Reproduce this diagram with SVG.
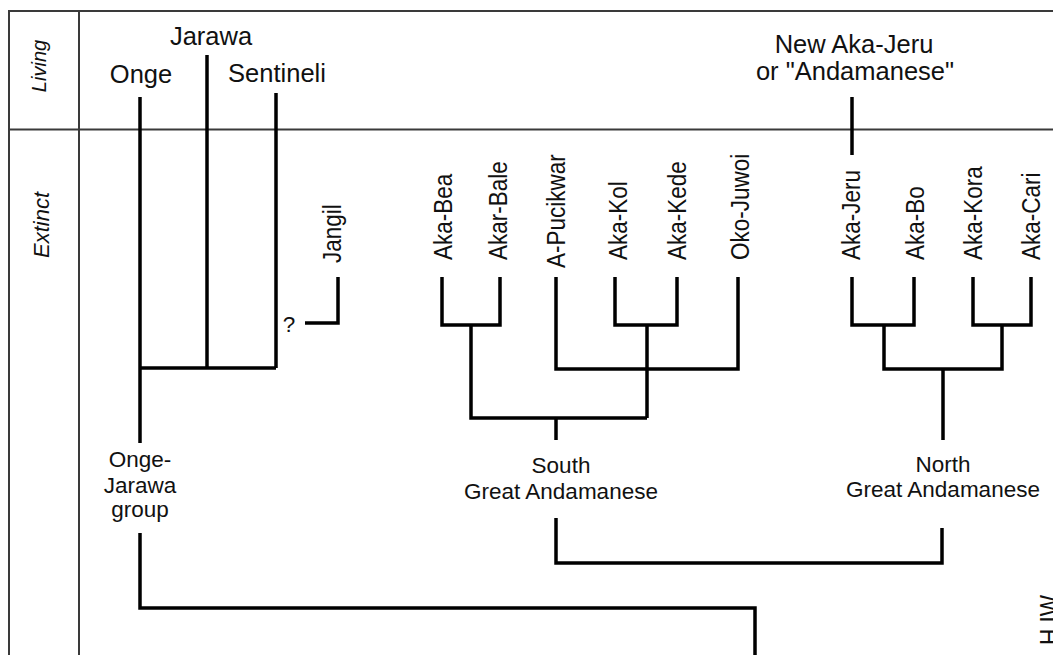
<svg xmlns="http://www.w3.org/2000/svg" width="1053" height="655" viewBox="0 0 1053 655">
<style>
.frame{stroke:#3a3a3a;stroke-width:2;fill:none}
.br{stroke:#000;stroke-width:3.5;fill:none;stroke-linecap:butt}
text{font-family:"Liberation Sans",Arial,sans-serif;fill:#111}
.top{font-size:25.5px;text-anchor:middle}
.lab{font-size:22.5px;text-anchor:middle}
.rot{font-size:25px;text-anchor:start}
.side{font-style:italic;text-anchor:middle}
</style>
<rect width="1053" height="655" fill="#fff"/>
<g id="frame">
<path class="frame" d="M9,655 V11 H1053"/>
<path class="frame" d="M79,11 V655"/>
<path class="frame" d="M9,129.5 H1053" stroke="#555"/>
<text class="side" font-size="20" transform="translate(46,66) rotate(-90)">Living</text>
<text class="side" font-size="22" transform="translate(49,225) rotate(-90)">Extinct</text>
</g>
<g id="connectors">
<path class="br" d="M140,97 V443 M140,533 V608 H755 V655"/>
<path class="br" d="M207,55 V368"/>
<path class="br" d="M276,93 V368 M140,368 H276"/>
<path class="br" d="M305,323 H338 V277"/>
<path class="br" d="M442,277 V325 H500 V277 M471,325 V418 H647 M556,418 V440"/>
<path class="br" d="M615,277 V325 H677 V277 M647,325 V418"/>
<path class="br" d="M556,277 V369 H738 V277"/>
<path class="br" d="M852,97 V155"/>
<path class="br" d="M852,277 V325 H914 V277 M884,325 V369 H1002 V325 M973,277 V325 H1031 V277 M943,369 V440"/>
<path class="br" d="M556,518 V563 H942 V528"/>
</g>
<g id="node-onge"><text class="top" x="141" y="83">Onge</text></g>
<g id="node-jarawa"><text class="top" x="211" y="45">Jarawa</text></g>
<g id="node-sentineli"><text class="top" x="277" y="82">Sentineli</text></g>
<g id="node-new-aka-jeru">
<text class="top" x="854" y="53">New Aka-Jeru</text>
<text class="top" x="855" y="80">or "Andamanese"</text>
</g>
<g id="node-jangil"><text class="rot" transform="translate(341,263) rotate(-90) scale(0.9,1)">Jangil</text></g>
<g id="node-q"><text class="lab" x="289" y="332">?</text></g>
<g id="node-aka-bea"><text class="rot" transform="translate(452,260) rotate(-90) scale(0.9,1)">Aka-Bea</text></g>
<g id="node-akar-bale"><text class="rot" transform="translate(507,260) rotate(-90) scale(0.9,1)">Akar-Bale</text></g>
<g id="node-a-pucikwar"><text class="rot" transform="translate(565,268) rotate(-90) scale(0.9,1)">A-Pucikwar</text></g>
<g id="node-aka-kol"><text class="rot" transform="translate(627,260) rotate(-90) scale(0.9,1)">Aka-Kol</text></g>
<g id="node-aka-kede"><text class="rot" transform="translate(686,260) rotate(-90) scale(0.9,1)">Aka-Kede</text></g>
<g id="node-oko-juwoi"><text class="rot" transform="translate(749,260) rotate(-90) scale(0.9,1)">Oko-Juwoi</text></g>
<g id="node-aka-jeru"><text class="rot" transform="translate(860,260) rotate(-90) scale(0.9,1)">Aka-Jeru</text></g>
<g id="node-aka-bo"><text class="rot" transform="translate(924,260) rotate(-90) scale(0.9,1)">Aka-Bo</text></g>
<g id="node-aka-kora"><text class="rot" transform="translate(982,260) rotate(-90) scale(0.9,1)">Aka-Kora</text></g>
<g id="node-aka-cari"><text class="rot" transform="translate(1040,260) rotate(-90) scale(0.9,1)">Aka-Cari</text></g>
<g id="node-onge-jarawa">
<text class="lab" x="140" y="467">Onge-</text>
<text class="lab" x="140" y="493">Jarawa</text>
<text class="lab" x="140" y="517">group</text>
</g>
<g id="node-south">
<text class="lab" x="561" y="473">South</text>
<text class="lab" x="561" y="499">Great Andamanese</text>
</g>
<g id="node-north">
<text class="lab" x="943" y="472">North</text>
<text class="lab" x="943" y="497">Great Andamanese</text>
</g>
<g id="signature"><text class="rot" transform="translate(1058,645) rotate(-90) scale(0.9,1)">H.IW</text></g>
</svg>
